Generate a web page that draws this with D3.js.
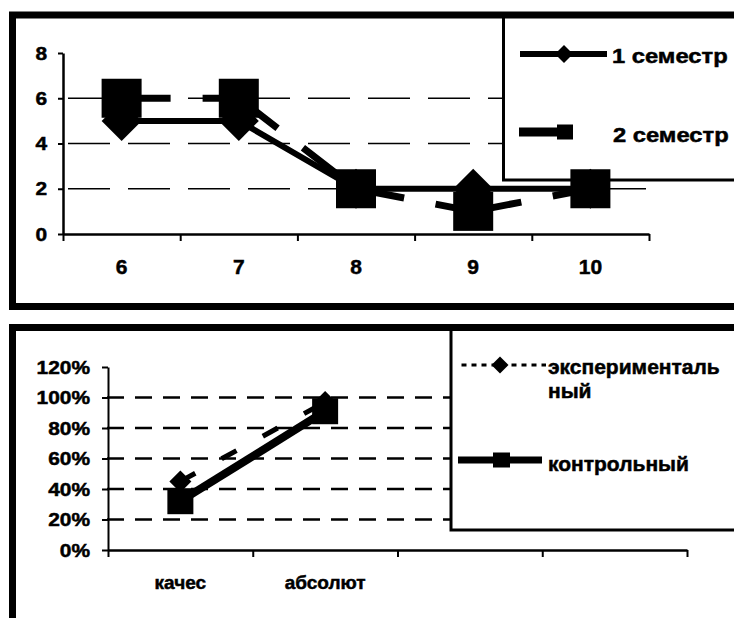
<!DOCTYPE html>
<html><head><meta charset="utf-8">
<script src="https://cdn.jsdelivr.net/npm/d3@7/dist/d3.min.js"></script>
<style>
body{margin:0;background:#fff}
svg{display:block}
text{font-family:"Liberation Sans",Arial,sans-serif;font-weight:bold;fill:#000;stroke:#000;stroke-width:0.5px}
</style>
</head><body>
<svg id="c" width="734" height="618"></svg>
<script>
// ---------- Top chart data ----------
const grades = ["6","7","8","9","10"];
const semester1 = [5,5,2,2,2];
const semester2 = [6,6,2,1,2];
const topSeriesNames = ["1 семестр","2 семестр"];
const topYTicks = [0,2,4,6,8];
const topGridValues = [2,4,6];

// ---------- Bottom chart data ----------
const indicators = ["качес","абсолют","",""];
const experimental = [0.45,0.97];
const control = [0.32,0.91];
const bottomSeriesNames = ["экспериментальный","контрольный"];
const bottomYTicks = [0,0.2,0.4,0.6,0.8,1.0,1.2];
const bottomGridValues = [0.2,0.4,0.6,0.8,1.0];

const svg = d3.select("#c");

function stretch(sel, k){
  sel.each(function(){
    const w = this.getComputedTextLength();
    if (w > 0){ this.setAttribute("textLength", w*k); this.setAttribute("lengthAdjust","spacingAndGlyphs"); }
  });
}
function diamond(g, cx, cy, h){
  g.append("path").attr("d",`M${cx},${cy-h}L${cx+h},${cy}L${cx},${cy+h}L${cx-h},${cy}Z`).attr("fill","#000");
}
function square(g, cx, cy, w, h){
  g.append("rect").attr("x",cx-w/2).attr("y",cy-h/2).attr("width",w).attr("height",h).attr("fill","#000");
}

// ================= TOP CHART =================
const topG = svg.append("g");

const x1 = d3.scaleBand().domain(grades).range([63,649]);
const x1b = d3.scaleLinear().domain([0,grades.length]).range([63,649]);
const y1 = d3.scaleLinear().domain([0,8]).range([234,53]);

// gridlines
topG.selectAll(".g1").data(topGridValues).enter().append("line")
  .attr("x1",68).attr("x2",646).attr("y1",d=>y1(d)).attr("y2",d=>y1(d))
  .attr("stroke","#000").attr("stroke-width",1.5).attr("stroke-dasharray","42,18");

// y axis
const ya1 = topG.append("g").attr("transform","translate(63,0)")
  .call(d3.axisLeft(y1).tickValues(topYTicks).tickFormat(d3.format("d")).tickSize(5).tickSizeOuter(0).tickPadding(11));
ya1.select(".domain").attr("stroke","#000").attr("stroke-width",2.5);
ya1.selectAll(".tick line").attr("stroke","#000").attr("stroke-width",2);
ya1.selectAll("text").attr("font-size",19).attr("font-family",null);
stretch(ya1.selectAll("text"),1.1);

// x axis: boundary ticks + labels
const xb1 = topG.append("g").attr("transform","translate(0,234)")
  .call(d3.axisBottom(x1b).tickValues(d3.range(grades.length+1)).tickFormat("").tickSize(7).tickSizeOuter(0));
xb1.select(".domain").attr("stroke","#000").attr("stroke-width",2.5);
xb1.selectAll(".tick line").attr("stroke","#000").attr("stroke-width",2);
const xl1 = topG.append("g").attr("transform","translate(0,234)")
  .call(d3.axisBottom(x1).tickSize(0).tickPadding(25));
xl1.select(".domain").remove();
xl1.selectAll("text").attr("font-size",21).attr("font-family",null);

// legend box (drawn before series: markers overlap it in the reference)
topG.append("rect").attr("x",503.5).attr("y",15).attr("width",300).attr("height",165)
  .attr("fill","#fff").attr("stroke","#000").attr("stroke-width",3);

// series 1: solid line + diamonds
const line1 = d3.line().x((d,i)=>x1(grades[i])+x1.bandwidth()/2).y(d=>y1(d));
topG.append("path").attr("d",line1(semester1)).attr("fill","none").attr("stroke","#000").attr("stroke-width",6);
semester1.forEach((v,i)=>diamond(topG, x1(grades[i])+x1.bandwidth()/2, y1(v), 20));

// series 2: dashed thick line (pattern restarts per segment) + squares
const pts2 = semester2.map((v,i)=>[x1(grades[i])+x1.bandwidth()/2, y1(v)]);
d3.pairs(pts2).forEach(p=>{
  topG.append("path").attr("d",d3.line()(p)).attr("fill","none").attr("stroke","#000")
    .attr("stroke-width",7).attr("stroke-dasharray","49,32");
});
pts2.forEach(p=>square(topG,p[0],p[1],40,39));

// legend items
const lg1 = topG.append("g");
lg1.append("line").attr("x1",520).attr("x2",607).attr("y1",54).attr("y2",54).attr("stroke","#000").attr("stroke-width",6);
diamond(lg1,564,54,9);
lg1.append("text").attr("x",612).attr("y",63).attr("font-size",21).text(topSeriesNames[0]);
lg1.append("line").attr("x1",519).attr("x2",607).attr("y1",132).attr("y2",132).attr("stroke","#000").attr("stroke-width",9).attr("stroke-dasharray","49,40");
square(lg1,565,132,16,15);
lg1.append("text").attr("x",613).attr("y",142).attr("font-size",21).text(topSeriesNames[1]);
stretch(lg1.selectAll("text"),1.13);

// frame on top
topG.append("rect").attr("x",12.5).attr("y",15).attr("width",800).attr("height",291.5)
  .attr("fill","none").attr("stroke","#000").attr("stroke-width",7);

// ================= BOTTOM CHART =================
const botG = svg.append("g");

const x2 = d3.scaleBand().domain(d3.range(indicators.length)).range([108,687]);
const x2b = d3.scaleLinear().domain([0,indicators.length]).range([108,687]);
const y2 = d3.scaleLinear().domain([0,1.2]).range([550,367]);

botG.selectAll(".g2").data(bottomGridValues).enter().append("line")
  .attr("x1",107).attr("x2",451).attr("y1",d=>y2(d)).attr("y2",d=>y2(d))
  .attr("stroke","#000").attr("stroke-width",2.5).attr("stroke-dasharray","17,11");

const ya2 = botG.append("g").attr("transform","translate(108,0)")
  .call(d3.axisLeft(y2).tickValues(bottomYTicks).tickFormat(d3.format(".0%")).tickSize(6).tickSizeOuter(0).tickPadding(12));
ya2.select(".domain").attr("stroke","#000").attr("stroke-width",2);
ya2.selectAll(".tick line").attr("stroke","#000").attr("stroke-width",2);
ya2.selectAll("text").attr("font-size",19).attr("font-family",null);
stretch(ya2.selectAll("text"),1.1);

const xb2 = botG.append("g").attr("transform","translate(0,550)")
  .call(d3.axisBottom(x2b).tickValues(d3.range(indicators.length+1)).tickFormat("").tickSize(7).tickSizeOuter(0));
xb2.select(".domain").attr("stroke","#000").attr("stroke-width",2.5);
xb2.selectAll(".tick line").attr("stroke","#000").attr("stroke-width",2);
const xl2 = botG.append("g").attr("transform","translate(0,550)")
  .call(d3.axisBottom(x2).tickSize(0).tickPadding(26).tickFormat(i=>indicators[i]));
xl2.select(".domain").remove();
xl2.selectAll("text").attr("font-size",19).attr("font-family",null);

// legend box
botG.append("rect").attr("x",451).attr("y",327).attr("width",300).attr("height",203)
  .attr("fill","#fff").attr("stroke","#000").attr("stroke-width",3);

// experimental: dashed line + diamonds
const cx2 = i => x2(i)+x2.bandwidth()/2;
const ptsE = experimental.map((v,i)=>[cx2(i),y2(v)]);
d3.pairs(ptsE).forEach(p=>{
  botG.append("path").attr("d",d3.line()(p)).attr("fill","none").attr("stroke","#000")
    .attr("stroke-width",5).attr("stroke-dasharray","17,30");
});
ptsE.forEach(p=>diamond(botG,p[0],p[1],11));

// control: solid line + squares
const ptsC = control.map((v,i)=>[cx2(i),y2(v)]);
botG.append("path").attr("d",d3.line()(ptsC)).attr("fill","none").attr("stroke","#000").attr("stroke-width",8);
ptsC.forEach(p=>square(botG,p[0],p[1],26,26));

// legend items
const lg2 = botG.append("g");
lg2.append("line").attr("x1",461.5).attr("x2",546).attr("y1",365).attr("y2",365).attr("stroke","#000").attr("stroke-width",3).attr("stroke-dasharray","5,5");
diamond(lg2,500,365,8.5);
const expName = bottomSeriesNames[0];
lg2.append("text").attr("x",548).attr("y",374).attr("font-size",21).text(expName.slice(0,14));
lg2.append("text").attr("x",548).attr("y",398).attr("font-size",21).text(expName.slice(14));
lg2.append("line").attr("x1",458).attr("x2",542).attr("y1",460).attr("y2",460).attr("stroke","#000").attr("stroke-width",7);
square(lg2,501.5,460,17,15);
lg2.append("text").attr("x",548).attr("y",471).attr("font-size",21).text(bottomSeriesNames[1]);

// frame on top
botG.append("rect").attr("x",12.5).attr("y",327.5).attr("width",800).attr("height",400)
  .attr("fill","none").attr("stroke","#000").attr("stroke-width",7);
</script>
</body></html>
